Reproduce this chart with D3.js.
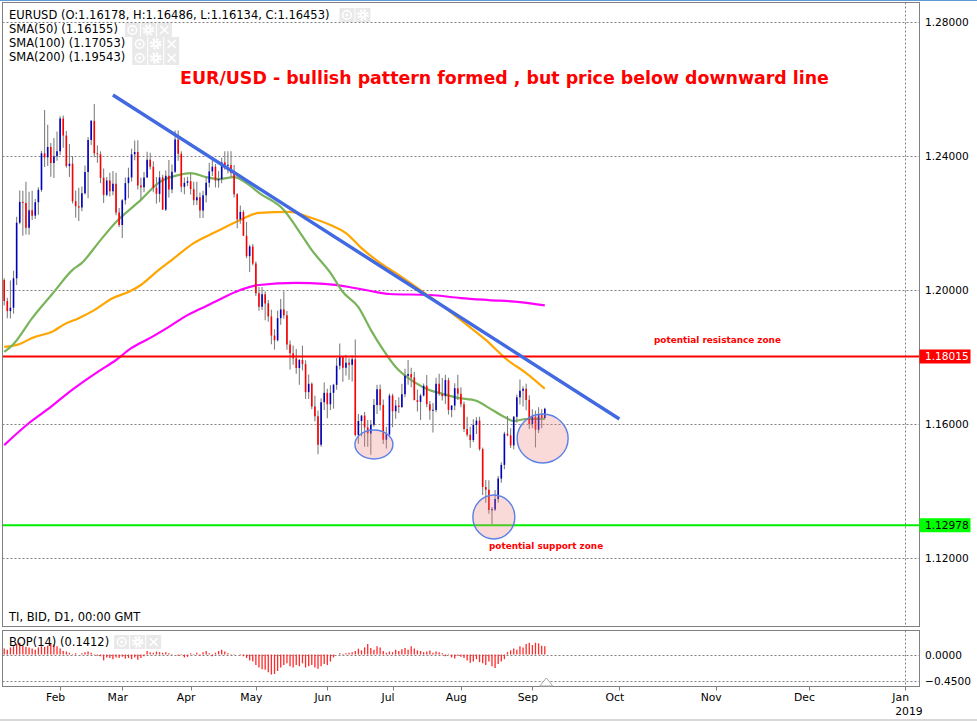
<!DOCTYPE html>
<html><head><meta charset="utf-8">
<script src="https://cdn.jsdelivr.net/npm/d3@7"></script>
<style>body{margin:0;background:#fff;overflow:hidden}svg{display:block}</style>
</head><body>
<svg id="c" width="977" height="721"></svg>
<script>
// ---------- DATA ----------
// daily bars Jan 8 .. Sep 7 (2018): [open, high, low, close]
const ohlc = [
[1.2030,1.2035,1.1954,1.1967],[1.1967,1.1977,1.1916,1.1937],[1.1937,1.2028,1.1915,1.1947],[1.1947,1.2058,1.1929,1.2035],
[1.2035,1.2219,1.2015,1.2201],[1.2201,1.2297,1.2196,1.2263],[1.2263,1.2296,1.2162,1.2260],[1.2260,1.2323,1.2166,1.2186],
[1.2186,1.2293,1.2165,1.2238],[1.2238,1.2296,1.2209,1.2222],[1.2222,1.2272,1.2212,1.2262],[1.2262,1.2307,1.2225,1.2299],
[1.2299,1.2415,1.2293,1.2408],[1.2408,1.2537,1.2367,1.2396],[1.2396,1.2493,1.2370,1.2427],[1.2427,1.2439,1.2338,1.2379],
[1.2379,1.2454,1.2334,1.2399],[1.2399,1.2473,1.2386,1.2414],
[1.2414,1.2519,1.2403,1.2512],[1.2512,1.2521,1.2425,1.2461],[1.2461,1.2475,1.2365,1.2370],[1.2370,1.2436,1.2337,1.2377],
[1.2377,1.2400,1.2258,1.2265],[1.2265,1.2297,1.2216,1.2250],[1.2250,1.2305,1.2206,1.2246],[1.2246,1.2309,1.2235,1.2289],
[1.2289,1.2372,1.2285,1.2352],[1.2352,1.2457,1.2274,1.2448],[1.2448,1.2507,1.2433,1.2505],[1.2505,1.2555,1.2396,1.2408],
[1.2408,1.2431,1.2380,1.2405],[1.2405,1.2414,1.2319,1.2335],[1.2335,1.2363,1.2260,1.2284],[1.2284,1.2337,1.2280,1.2327],
[1.2327,1.2350,1.2279,1.2295],[1.2295,1.2355,1.2283,1.2317],[1.2317,1.2350,1.2223,1.2231],[1.2231,1.2245,1.2188,1.2194],
[1.2194,1.2272,1.2155,1.2268],[1.2268,1.2336,1.2255,1.2319],[1.2319,1.2365,1.2274,1.2336],[1.2336,1.2422,1.2324,1.2405],
[1.2405,1.2446,1.2387,1.2412],[1.2412,1.2447,1.2300,1.2312],[1.2312,1.2335,1.2272,1.2307],[1.2307,1.2352,1.2292,1.2336],
[1.2336,1.2413,1.2335,1.2389],[1.2389,1.2410,1.2360,1.2368],[1.2368,1.2384,1.2292,1.2305],[1.2305,1.2337,1.2258,1.2287],
[1.2287,1.2355,1.2262,1.2336],[1.2336,1.2344,1.2239,1.2240],[1.2240,1.2357,1.2236,1.2341],[1.2341,1.2388,1.2276,1.2300],
[1.2300,1.2375,1.2289,1.2353],[1.2353,1.2476,1.2349,1.2449],[1.2449,1.2476,1.2386,1.2407],[1.2407,1.2414,1.2292,1.2308],
[1.2308,1.2336,1.2286,1.2320],[1.2320,1.2338,1.2310,1.2325],
[1.2325,1.2346,1.2285,1.2301],[1.2301,1.2323,1.2253,1.2268],[1.2268,1.2323,1.2254,1.2277],[1.2277,1.2291,1.2215,1.2237],
[1.2237,1.2296,1.2215,1.2283],[1.2283,1.2338,1.2261,1.2320],[1.2320,1.2380,1.2306,1.2354],[1.2354,1.2396,1.2340,1.2368],
[1.2368,1.2376,1.2306,1.2327],[1.2327,1.2355,1.2305,1.2331],[1.2331,1.2395,1.2319,1.2381],[1.2381,1.2414,1.2359,1.2372],
[1.2372,1.2414,1.2348,1.2373],[1.2373,1.2414,1.2337,1.2349],[1.2349,1.2373,1.2276,1.2286],[1.2286,1.2289,1.2184,1.2211],
[1.2211,1.2252,1.2198,1.2233],[1.2233,1.2239,1.2161,1.2162],[1.2162,1.2203,1.2095,1.2101],[1.2101,1.2135,1.2054,1.2130],
[1.2130,1.2137,1.2073,1.2079],
[1.2079,1.2085,1.1982,1.1990],[1.1990,1.2009,1.1938,1.1950],[1.1950,1.2009,1.1940,1.1987],[1.1987,1.1996,1.1910,1.1960],
[1.1960,1.1970,1.1905,1.1921],[1.1921,1.1941,1.1838,1.1864],[1.1864,1.1883,1.1822,1.1850],[1.1850,1.1939,1.1846,1.1916],
[1.1916,1.1973,1.1896,1.1942],[1.1942,1.1996,1.1914,1.1925],[1.1925,1.1937,1.1822,1.1837],[1.1837,1.1849,1.1763,1.1811],
[1.1811,1.1834,1.1777,1.1796],[1.1796,1.1824,1.1750,1.1767],[1.1767,1.1794,1.1717,1.1791],[1.1791,1.1834,1.1760,1.1779],
[1.1779,1.1790,1.1675,1.1695],[1.1695,1.1748,1.1675,1.1720],[1.1720,1.1724,1.1644,1.1652],[1.1652,1.1684,1.1608,1.1623],
[1.1623,1.1640,1.1510,1.1538],[1.1538,1.1677,1.1532,1.1665],[1.1665,1.1724,1.1642,1.1693],
[1.1693,1.1705,1.1617,1.1659],[1.1659,1.1716,1.1642,1.1693],[1.1693,1.1720,1.1646,1.1717],[1.1717,1.1797,1.1702,1.1774],
[1.1774,1.1840,1.1763,1.1800],[1.1800,1.1800,1.1726,1.1768],[1.1768,1.1807,1.1745,1.1783],[1.1783,1.1796,1.1732,1.1777],
[1.1777,1.1805,1.1727,1.1793],[1.1793,1.1852,1.1563,1.1567],[1.1567,1.1630,1.1541,1.1609],[1.1609,1.1627,1.1563,1.1625],
[1.1625,1.1636,1.1532,1.1590],[1.1590,1.1612,1.1532,1.1572],[1.1572,1.1612,1.1508,1.1598],[1.1598,1.1675,1.1592,1.1657],
[1.1657,1.1717,1.1630,1.1704],[1.1704,1.1718,1.1640,1.1657],[1.1657,1.1673,1.1540,1.1553],[1.1553,1.1592,1.1527,1.1569],
[1.1569,1.1691,1.1560,1.1685],
[1.1685,1.1690,1.1590,1.1638],[1.1638,1.1672,1.1616,1.1655],[1.1655,1.1680,1.1633,1.1651],[1.1651,1.1720,1.1648,1.1689],
[1.1689,1.1765,1.1680,1.1744],[1.1744,1.1791,1.1717,1.1749],[1.1749,1.1768,1.1710,1.1739],[1.1739,1.1756,1.1690,1.1671],
[1.1671,1.1703,1.1637,1.1666],[1.1666,1.1690,1.1612,1.1685],[1.1685,1.1721,1.1682,1.1714],[1.1714,1.1746,1.1650,1.1659],
[1.1659,1.1669,1.1613,1.1640],[1.1640,1.1663,1.1575,1.1642],[1.1642,1.1738,1.1635,1.1720],[1.1720,1.1750,1.1684,1.1690],
[1.1690,1.1737,1.1670,1.1683],[1.1683,1.1747,1.1660,1.1731],[1.1731,1.1738,1.1628,1.1642],[1.1642,1.1657,1.1620,1.1655],
[1.1655,1.1722,1.1641,1.1707],[1.1707,1.1747,1.1672,1.1690],
[1.1690,1.1710,1.1650,1.1659],[1.1659,1.1667,1.1576,1.1585],[1.1585,1.1622,1.1562,1.1568],[1.1568,1.1592,1.1529,1.1552],
[1.1552,1.1614,1.1546,1.1597],[1.1597,1.1620,1.1570,1.1610],[1.1610,1.1622,1.1520,1.1525],[1.1525,1.1530,1.1388,1.1412],
[1.1412,1.1433,1.1365,1.1404],[1.1404,1.1432,1.1332,1.1343],[1.1343,1.1352,1.1301,1.1345],[1.1345,1.1403,1.1340,1.1376],
[1.1376,1.1445,1.1365,1.1437],[1.1437,1.1486,1.1425,1.1478],[1.1478,1.1577,1.1465,1.1571],[1.1571,1.1624,1.1563,1.1566],
[1.1566,1.1587,1.1528,1.1536],[1.1536,1.1623,1.1524,1.1622],[1.1622,1.1688,1.1604,1.1680],[1.1680,1.1733,1.1658,1.1699],
[1.1699,1.1713,1.1652,1.1705],[1.1705,1.1720,1.1641,1.1672],[1.1672,1.1686,1.1585,1.1600],
[1.1600,1.1644,1.1588,1.1622],[1.1622,1.1640,1.1530,1.1583],[1.1583,1.1650,1.1573,1.1628],[1.1628,1.1644,1.1587,1.1618],
[1.16178,1.16486,1.16134,1.16453]
];
// BOP(14) per bar
const bop = [
0.10,0.08,0.12,0.14,0.18,0.20,0.15,0.13,0.12,0.10,0.08,0.12,0.14,0.13,0.15,0.19,0.17,0.14,0.10,0.06,
0.05,0.03,0.01,0.02,0.00,0.02,0.04,0.05,0.03,0.01,-0.02,-0.03,-0.10,-0.05,-0.06,-0.08,-0.05,-0.06,-0.04,-0.07,
-0.06,-0.08,-0.05,-0.09,-0.06,-0.03,0.06,0.04,0.03,0.05,0.04,0.03,0.04,0.02,0.01,0.00,-0.02,0.01,-0.05,-0.04,
0.02,0.01,0.03,-0.02,0.04,0.06,0.02,-0.03,0.03,0.06,0.08,0.05,0.02,0.01,0.01,0.00,-0.01,-0.03,-0.06,-0.10,
-0.12,-0.18,-0.22,-0.25,-0.26,-0.30,-0.34,-0.33,-0.28,-0.22,-0.18,-0.15,-0.20,-0.22,-0.18,-0.20,-0.15,-0.22,-0.20,-0.18,
-0.22,-0.24,-0.20,-0.16,-0.18,-0.12,-0.05,0.00,0.02,0.01,0.02,0.03,0.04,0.06,0.10,0.07,0.12,0.18,0.11,0.08,
0.14,0.12,0.06,0.03,0.05,0.04,0.08,0.06,0.09,0.11,0.08,0.14,0.10,0.07,0.06,0.04,0.05,0.07,0.03,0.05,
0.04,0.02,-0.03,0.01,-0.05,-0.07,-0.02,-0.04,-0.06,-0.10,-0.14,-0.12,-0.08,-0.13,-0.15,-0.18,-0.12,-0.20,-0.23,-0.16,
-0.12,-0.08,0.04,0.07,0.10,0.08,0.14,0.12,0.18,0.20,0.16,0.20,0.19,0.15,0.1412
];
// moving averages: [bar index, value]
const sma50 = [[0,1.1815],[3,1.1839],[9,1.1916],[16,1.1994],[22,1.2060],[25,1.2081],[31,1.2149],[36,1.2203],[44,1.2269],
[50,1.2322],[56,1.2343],[60,1.2349],[65,1.2337],[69,1.2331],[74,1.2337],[78,1.2319],[82,1.2290],[90,1.2239],[94,1.2188],
[99,1.2119],[105,1.2051],[109,1.1994],[114,1.1949],[118,1.1881],[122,1.1821],[126,1.1770],[132,1.1725],[137,1.1701],
[140,1.1693],[146,1.1678],[152,1.1669],[156,1.1648],[161,1.1621],[164,1.1609],[168,1.1615],[174,1.16155]];
const sma100 = [[0,1.1830],[5,1.1839],[9,1.1857],[16,1.1878],[19,1.1896],[24,1.1916],[29,1.1940],[35,1.1976],[40,1.1994],
[44,1.2015],[49,1.2054],[54,1.2090],[61,1.2140],[68,1.2173],[76,1.2209],[82,1.2230],[92,1.2233],[98,1.2218],[105,1.2194],
[110,1.2170],[115,1.2125],[121,1.2081],[126,1.2051],[133,1.2006],[140,1.1960],[147,1.1910],[155,1.1851],[162,1.1791],
[168,1.1752],[174,1.17053]];
const sma200 = [[0,1.1537],[8,1.1603],[15,1.1651],[21,1.1696],[30,1.1755],[36,1.1791],[41,1.1827],[47,1.1857],[53,1.1890],
[59,1.1925],[63,1.1943],[67,1.1961],[76,1.2000],[82,1.2015],[94,1.2021],[103,1.2018],[111,1.2009],[118,1.1997],[124,1.1988],
[137,1.1985],[147,1.1976],[156,1.1970],[166,1.1964],[174,1.19543]];
const trendLine = [[35,1.2582],[198,1.1615]];
const resistance = 1.18015, support = 1.12978;
const zones = [[119,1.15388],[157.6,1.13224],[173.3,1.15567]];
const priceTicks = [1.28,1.24,1.20,1.16,1.12];
const bopTicks = [0,-0.45];
// month label, bar index of first day (future months on calendar-day spacing)
const monthTicks = [["Feb",18],["Mar",38],["Apr",60],["May",81],["Jun",104],["Jul",125],["Aug",147],["Sep",170],
["Oct",198],["Nov",229],["Dec",259],["Jan",290]];
const yearLabel = ["2019",290];

// ---------- LAYOUT ----------
const svg = d3.select('#c');
const FONT = "'DejaVu Sans', Verdana, sans-serif";
const L = 2.5, R = 919.5, T = 2.5, B = 626.5, BT = 630.5, BB = 686.5;
const x = d3.scaleLinear().domain([0, 290]).range([4.2, 905.2]);
const y = d3.scaleLinear().domain([1.12, 1.28]).range([558, 22]);
const yb = d3.scaleLinear().domain([-0.45, 0]).range([681, 654.5]);
const f5 = d3.format('.5f'), f4 = d3.format('.4f');

svg.append('rect').attr('width',977).attr('height',721).attr('fill','#fff');
svg.append('line').attr('x1',0).attr('x2',977).attr('y1',0.5).attr('y2',0.5).attr('stroke','#5b9bd5');
svg.append('line').attr('x1',0).attr('x2',977).attr('y1',720).attr('y2',720).attr('stroke','#d8d8d8').attr('stroke-width',2);

const defs = svg.append('defs');
defs.append('clipPath').attr('id','mainclip').append('rect').attr('x',L+0.5).attr('y',T+0.5).attr('width',R-L-1).attr('height',B-T-1);
defs.append('clipPath').attr('id','bopclip').append('rect').attr('x',L+0.5).attr('y',BT+0.5).attr('width',R-L-1).attr('height',BB-BT-1);

// grid
const grid = svg.append('g').attr('stroke','#808080').attr('stroke-dasharray','2,2').attr('stroke-width',1);
grid.selectAll('.hg').data(priceTicks).join('line')
  .attr('x1',L).attr('x2',R).attr('y1',d=>Math.round(y(d))+0.5).attr('y2',d=>Math.round(y(d))+0.5);
grid.selectAll('.bg').data(bopTicks).join('line').attr('class','bg')
  .attr('x1',L).attr('x2',R).attr('y1',d=>Math.round(yb(d))+0.5).attr('y2',d=>Math.round(yb(d))+0.5);
const jx = Math.round(x(yearLabel[1]))+0.5;
grid.append('line').attr('x1',jx).attr('x2',jx).attr('y1',T).attr('y2',B);
grid.append('line').attr('x1',jx).attr('x2',jx).attr('y1',BT).attr('y2',BB);

const main = svg.append('g').attr('clip-path','url(#mainclip)');

// moving averages
const lineGen = d3.line().x(d=>x(d[0])).y(d=>y(d[1])).curve(d3.curveMonotoneX);
[[sma200,'#ff00ff'],[sma100,'#ffa500'],[sma50,'#79b35a']].forEach(([s,c])=>{
  main.append('path').datum(s).attr('d',lineGen).attr('fill','none').attr('stroke',c).attr('stroke-width',2.2);
});

// bars
const bars = main.append('g');
bars.selectAll('.w').data(ohlc).join('line').attr('class','w')
  .attr('x1',(d,i)=>x(i)).attr('x2',(d,i)=>x(i)).attr('y1',d=>y(d[1])).attr('y2',d=>y(d[2]))
  .attr('stroke','#808080').attr('stroke-width',1.1);
bars.selectAll('.b').data(ohlc).join('line').attr('class','b')
  .attr('x1',(d,i)=>x(i)).attr('x2',(d,i)=>x(i))
  .attr('y1',d=>{const a=y(d[0]),b=y(d[3]);return Math.abs(a-b)<1?(a+b)/2-0.5:a;})
  .attr('y2',d=>{const a=y(d[0]),b=y(d[3]);return Math.abs(a-b)<1?(a+b)/2+0.5:b;})
  .attr('stroke',d=>d[3]>=d[0]?'#0000c0':'#ff0000').attr('stroke-width',1.6);

// levels
main.append('line').attr('x1',L).attr('x2',R).attr('y1',y(resistance)).attr('y2',y(resistance)).attr('stroke','#ff0000').attr('stroke-width',2);
main.append('line').attr('x1',L).attr('x2',R).attr('y1',y(support)).attr('y2',y(support)).attr('stroke','#00ee00').attr('stroke-width',2);

// trend line
main.append('line').attr('x1',x(trendLine[0][0])).attr('y1',y(trendLine[0][1]))
  .attr('x2',x(trendLine[1][0])).attr('y2',y(trendLine[1][1]))
  .attr('stroke','#4169e1').attr('stroke-width',3.4).attr('stroke-linecap','butt');

// highlight ellipses
const radii = [[19,14.5],[21,22],[25.5,24.5]];
main.selectAll('.z').data(zones).join('ellipse').attr('class','z')
  .attr('cx',d=>x(d[0])).attr('cy',d=>y(d[1])).attr('rx',(d,i)=>radii[i][0]).attr('ry',(d,i)=>radii[i][1])
  .attr('fill','#f08080').attr('fill-opacity',0.3).attr('stroke','#5a80e6').attr('stroke-width',1.4);

// annotations
svg.append('text').attr('x',180).attr('y',84.3).attr('font-family',FONT).attr('font-weight','bold')
  .attr('font-size',17.4).attr('fill','#ff0000').text('EUR/USD - bullish pattern formed , but price below downward line');
svg.append('text').attr('x',654).attr('y',y(resistance)-13.5).attr('font-family',FONT).attr('font-weight','bold')
  .attr('font-size',8.9).attr('fill','#ff0000').text('potential resistance zone');
svg.append('text').attr('x',489).attr('y',y(support)+24).attr('font-family',FONT).attr('font-weight','bold')
  .attr('font-size',8.9).attr('fill','#ff0000').text('potential support zone');

// BOP histogram
const bg = svg.append('g').attr('clip-path','url(#bopclip)');
bg.selectAll('line').data(bop).join('line')
  .attr('x1',(d,i)=>x(i)).attr('x2',(d,i)=>x(i)).attr('y1',yb(0)).attr('y2',d=>yb(d))
  .attr('stroke','#ff2a2a').attr('stroke-width',1.3);

// panel frames
svg.append('rect').attr('x',L).attr('y',T).attr('width',R-L).attr('height',B-T).attr('fill','none').attr('stroke','#808080');
svg.append('rect').attr('x',L).attr('y',BT).attr('width',R-L).attr('height',BB-BT).attr('fill','none').attr('stroke','#808080');

// shift marker
const lx = x(ohlc.length-1)+1.5;
svg.append('path').attr('d',`M${lx-6.5},${BB-0.5}L${lx+6.5},${BB-0.5}L${lx},${BB-8.5}Z`).attr('fill','#fff').attr('stroke','#a8a8a8');

// right axis labels
const ax = svg.append('g').attr('font-family',FONT).attr('font-size',10.6).attr('fill','#000');
ax.selectAll('.pt').data(priceTicks).join('text').attr('x',925).attr('y',d=>y(d)+4).text(d=>f5(d));
ax.selectAll('.bt').data(bopTicks).join('text').attr('x',925).attr('y',d=>yb(d)+4).text(d=>f4(d));
[[resistance,'#ff0000','#ffffff'],[support,'#00ff00','#000000']].forEach(([v,bgc,fc])=>{
  svg.append('rect').attr('x',R).attr('y',y(v)-7).attr('width',51).attr('height',14).attr('fill',bgc);
  svg.append('text').attr('x',925).attr('y',y(v)+4).attr('font-family',FONT).attr('font-size',10.6).attr('fill',fc).text(f5(v));
});

// time axis
const tx = svg.append('g').attr('font-family',FONT).attr('font-size',10.8).attr('fill','#000');
tx.selectAll('.tk').data(monthTicks).join('line').attr('class','tk')
  .attr('x1',d=>Math.round(x(d[1]))+0.5).attr('x2',d=>Math.round(x(d[1]))+0.5).attr('y1',BB).attr('y2',BB+4).attr('stroke','#808080');
tx.selectAll('.ml').data(monthTicks).join('text').attr('class','ml')
  .attr('x',d=>x(d[1])-4.5).attr('y',701).attr('text-anchor','middle').text(d=>d[0]);
tx.append('text').attr('x',x(yearLabel[1])-10).attr('y',715).text(yearLabel[0]);

// legends with icon boxes
function icons(x0, y0, kinds){
  kinds.forEach((k,j)=>{
    const gx = x0 + j*16, g = svg.append('g').attr('transform',`translate(${gx},${y0})`);
    g.append('rect').attr('width',15).attr('height',14).attr('fill','#e9e9e9');
    if(k==='eye'){
      g.append('circle').attr('cx',7.5).attr('cy',7).attr('r',4.3).attr('fill','none').attr('stroke','#fff').attr('stroke-width',1.5);
      g.append('circle').attr('cx',7.5).attr('cy',7).attr('r',1.5).attr('fill','#fff');
    } else if(k==='gear'){
      g.append('circle').attr('cx',7.5).attr('cy',7).attr('r',4.6).attr('fill','none').attr('stroke','#fff').attr('stroke-width',2.4).attr('stroke-dasharray','2.1,1.5');
      g.append('circle').attr('cx',7.5).attr('cy',7).attr('r',3.3).attr('fill','#fff');
      g.append('circle').attr('cx',7.5).attr('cy',7).attr('r',1.3).attr('fill','#e9e9e9');
    } else {
      g.append('path').attr('d','M3.5,3L11.5,11M11.5,3L3.5,11').attr('stroke','#fff').attr('stroke-width',1.6);
    }
  });
}
function legend(txt, yb0, iy, gap, kinds){
  const t = svg.append('text').attr('x',9).attr('y',yb0).attr('font-family',FONT).attr('font-size',11.5).attr('fill','#000').text(txt);
  const w = t.node().getComputedTextLength();
  if(kinds) icons(9+w+gap, iy, kinds);
}
const last = ohlc[ohlc.length-1];
legend(`EURUSD (O:${f5(last[0])}, H:${f5(last[1])}, L:${f5(last[2])}, C:${f5(last[3])})`, 19, 8, 10, ['eye','gear']);
legend(`SMA(50) (${f5(sma50[sma50.length-1][1])})`, 33, 23, 7, ['eye','gear','x']);
legend(`SMA(100) (${f5(sma100[sma100.length-1][1])})`, 47, 37, 7, ['eye','gear','x']);
legend(`SMA(200) (${f5(sma200[sma200.length-1][1])})`, 61, 51, 7, ['eye','gear','x']);
legend(`BOP(14) (${f4(bop[bop.length-1])})`, 646, 635, 5, ['eye','gear','x']);
legend('TI, BID, D1, 00:00 GMT', 621, 0, 0, null);
</script>
</body></html>
